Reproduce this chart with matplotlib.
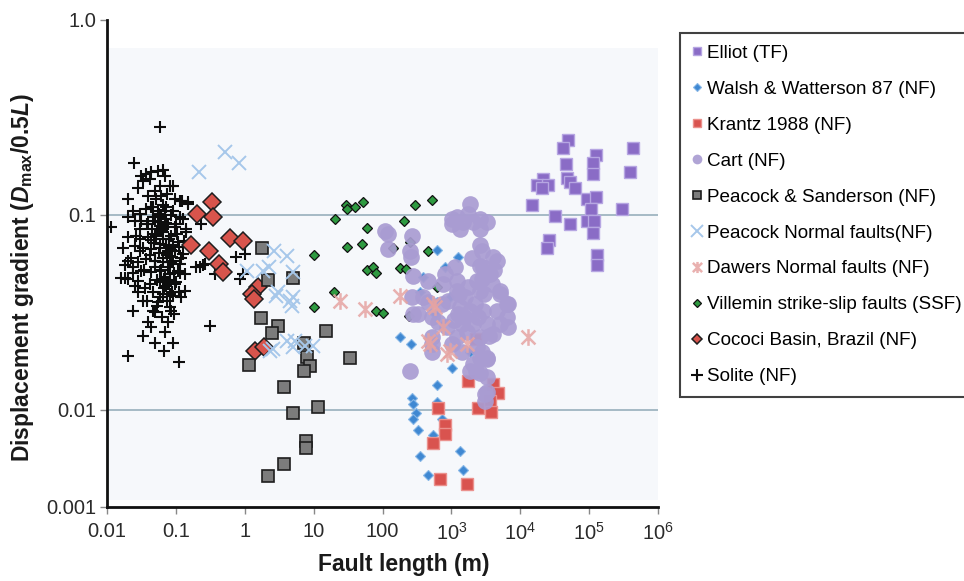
import numpy as np
import matplotlib
matplotlib.use("Agg")
import matplotlib.pyplot as plt
from matplotlib.lines import Line2D
from matplotlib.patches import Rectangle
from matplotlib.path import Path

plt.rcParams['font.family'] = ['Liberation Sans', 'DejaVu Sans']
plt.rcParams['mathtext.fontset'] = 'custom'
plt.rcParams['mathtext.rm'] = 'Liberation Sans:bold'
plt.rcParams['mathtext.it'] = 'Liberation Sans:bold:italic'
plt.rcParams['mathtext.bf'] = 'Liberation Sans:bold'

# ---------------------------------------------------------------
# data: fault length L (m) and displacement gradient Dmax/0.5L
# ---------------------------------------------------------------
elliot_x = [48500, 42000, 125000, 435000, 114000, 45900, 114000, 390000, 47000, 52500,
            21500, 17300, 25400, 20400, 62100, 91700, 125000, 14600, 108000, 295000,
            31800, 52500, 91700, 117000, 112000, 26300, 24100, 131000, 131000]
elliot_y = [0.243, 0.220, 0.202, 0.220, 0.185, 0.182, 0.162, 0.165, 0.154, 0.148,
            0.152, 0.143, 0.143, 0.138, 0.137, 0.121, 0.124, 0.112, 0.107, 0.107,
            0.098, 0.0896, 0.0932, 0.0932, 0.0802, 0.0742, 0.0675, 0.0621, 0.0554]

walsh_x = [622, 1256, 805, 390, 349, 610, 951, 576, 179, 256, 1007, 610, 264, 279, 610,
           305, 279, 721, 330, 544, 1329, 349, 1483, 451, 1856]
walsh_y = [0.0662, 0.0609, 0.0537, 0.0477, 0.0400, 0.0355, 0.0377, 0.0310, 0.0237, 0.0216,
           0.0164, 0.0133, 0.0114, 0.0107, 0.0109, 0.00925, 0.00804, 0.00804, 0.00610,
           0.00543, 0.00373, 0.00331, 0.00239, 0.00212, 0.0197]

krantz_x = [2245, 1754, 3963, 4777, 3622, 2400, 3741, 643, 805, 805, 544, 681, 1662]
krantz_y = [0.0231, 0.0141, 0.0136, 0.0121, 0.0111, 0.0102, 0.00938, 0.0102, 0.00687,
            0.00565, 0.00453, 0.00195, 0.00172]

cart_x = [1856, 1190, 1483, 1007, 2072, 2594, 3243, 1754, 1329, 2594, 1007,
          108, 121, 121, 264, 250, 256,
          2743, 4044, 2897, 3622, 2321, 1124, 805, 760, 1190, 279, 264, 390, 460, 721,
          1190, 1754, 2594, 5058, 6670, 4529, 6324, 2897, 1856, 1256, 1406, 2072, 3243,
          5058, 6670, 4044, 2594, 1190, 279, 330, 516, 516, 1007, 1406, 2321, 2594, 3243,
          2072, 3243, 2594, 1856, 250, 3243, 3063, 643, 851, 516,
          2594, 4529, 5058, 6324, 460, 516, 2743, 3243, 2245, 3063, 1329,
          1600, 2200, 3000, 3900, 1500, 2400, 3500, 1700, 2800, 4200, 1100, 900, 1300,
          2000, 2600]
cart_y = [0.1135, 0.0969, 0.0913, 0.0896, 0.0913, 0.0951, 0.0913, 0.1008, 0.0845, 0.0845, 0.0951,
          0.0828, 0.0796, 0.0667, 0.0780, 0.0654, 0.0604,
          0.0654, 0.0604, 0.0537, 0.0497, 0.0459, 0.0537, 0.0497, 0.0441, 0.0459, 0.0487, 0.0377,
          0.0377, 0.0355, 0.0348, 0.0408, 0.0424, 0.0408, 0.0392, 0.0348, 0.0322, 0.0297, 0.0322,
          0.0322, 0.0310, 0.0275, 0.0275, 0.0275, 0.0275, 0.0264, 0.0244, 0.0235, 0.0235, 0.0310,
          0.0310, 0.0235, 0.0197, 0.0217, 0.0197, 0.0209, 0.0185, 0.0185, 0.0171, 0.0147, 0.0155,
          0.0158, 0.0158, 0.0123, 0.0111, 0.0281, 0.0264, 0.0297,
          0.0547, 0.0581, 0.0408, 0.0348, 0.0459, 0.0217, 0.0197, 0.0182, 0.0158, 0.0120, 0.0335,
          0.0380, 0.0350, 0.0390, 0.0440, 0.0300, 0.0300, 0.0240, 0.0250, 0.0470, 0.0520,
          0.0290, 0.0360, 0.0390, 0.0600, 0.0700]

ps_x = [1.76, 4.96, 2.19, 1.70, 3.00, 2.46, 15.1, 7.23, 7.91, 8.84, 7.31, 1.16, 33.6, 3.74,
        5.06, 11.4, 7.82, 7.82, 3.74, 2.19]
ps_y = [0.0675, 0.0473, 0.0464, 0.0294, 0.0270, 0.0246, 0.0253, 0.0219, 0.0187, 0.0168,
        0.0158, 0.0170, 0.0184, 0.0131, 0.00917, 0.0103, 0.00475, 0.00407, 0.00275, 0.00207]

pn_x = [0.219, 0.521, 0.832, 2.65, 4.06, 1.07, 1.86, 5.06, 2.27, 2.84, 4.96, 4.80, 3.06,
        4.53, 5.35, 7.48, 9.87, 5.06, 2.59, 4.06, 2.32]
pn_y = [0.165, 0.211, 0.184, 0.0654, 0.0616, 0.0516, 0.0516, 0.0506, 0.0537, 0.0385, 0.0377,
        0.0341, 0.0400, 0.0362, 0.0226, 0.0213, 0.0213, 0.0209, 0.0205, 0.0226, 0.0201]

dawers_x = [24.1, 55.5, 179, 576, 760, 488, 951, 1662, 13000, 451, 851, 544]
dawers_y = [0.0362, 0.0328, 0.0385, 0.0335, 0.0264, 0.0217, 0.0201, 0.0217, 0.0235,
            0.0226, 0.0193, 0.0348]

villemin_x = [29.4, 39.7, 51.4, 30.1, 20.4, 58.8, 30.1, 50.2, 10.1, 58.8, 71.8, 80.2, 19.9,
              10.1, 80.2, 102, 295, 516, 205, 250, 451, 179, 219, 610, 244, 143]
villemin_y = [0.112, 0.110, 0.117, 0.107, 0.0951, 0.0851, 0.0686, 0.0708, 0.0621, 0.0522,
              0.0537, 0.0500, 0.0400, 0.0335, 0.0319, 0.0313, 0.112, 0.119, 0.0932, 0.0721,
              0.0654, 0.0533, 0.0527, 0.0424, 0.0303, 0.0679]

cococi_x = [0.337, 0.200, 0.341, 0.610, 0.951, 0.166, 0.306, 0.423, 0.478, 1.57, 1.26, 1.36,
            1.41, 1.90]
cococi_y = [0.116, 0.1008, 0.0969, 0.0760, 0.0736, 0.0702, 0.0654, 0.0559, 0.0506, 0.0424,
            0.0392, 0.0370, 0.0201, 0.0209]

solite_x = [0.0582, 0.0247, 0.0315, 0.0372, 0.0440, 0.0550, 0.0650, 0.0688, 0.0333, 0.0417,
            0.0813, 0.0282, 0.0492, 0.0614, 0.0961, 0.1135, 0.150, 0.0202, 0.0238, 0.0298,
            0.0372, 0.0465, 0.0550, 0.0726, 0.0908, 0.1135, 0.0115, 0.0202, 0.0252, 0.0315,
            0.0394, 0.0492, 0.0614, 0.0768, 0.0961, 0.234, 0.142, 0.0202, 0.0298, 0.0394,
            0.0492, 0.0650, 0.0858, 0.107, 0.0171, 0.0252, 0.0333, 0.0440, 0.0582, 0.0768,
            0.0961, 0.127, 0.753, 0.997, 0.0202, 0.0282, 0.0372, 0.0492, 0.0650, 0.0858,
            0.1135, 0.198, 0.262, 0.0238, 0.0315, 0.0440, 0.0582, 0.0813, 0.107, 0.134,
            0.366, 0.942, 0.0161, 0.0202, 0.0282, 0.0417, 0.0582, 0.0726, 0.0961, 0.134,
            0.0252, 0.0465, 0.0650, 0.0908, 0.120, 0.0333, 0.0550, 0.0813, 0.0238, 0.0492,
            0.0858, 0.0440, 0.310, 0.0204, 0.111, 0.0183, 0.224, 0.0917, 0.121, 0.151,
            0.045, 0.052, 0.058, 0.066, 0.072, 0.080, 0.048, 0.056, 0.064, 0.075,
            0.085, 0.090, 0.060, 0.070, 0.078, 0.053, 0.068, 0.082, 0.095, 0.058,
            0.074, 0.088, 0.050, 0.042, 0.038, 0.070, 0.060, 0.085, 0.100, 0.105,
            0.110, 0.100, 0.110, 0.062, 0.077, 0.095, 0.070, 0.046, 0.034, 0.036,
            0.030, 0.044, 0.052, 0.065, 0.075, 0.040, 0.058, 0.030, 0.026, 0.022,
            0.018, 0.024, 0.028, 0.038, 0.120, 0.130, 0.140, 0.125, 0.115, 0.090,
            0.050, 0.040, 0.033, 0.068, 0.250, 0.850,
            0.047, 0.055, 0.062, 0.071, 0.079, 0.087, 0.051, 0.059, 0.067, 0.083,
            0.043, 0.057, 0.069, 0.076, 0.092, 0.049, 0.063, 0.073, 0.081, 0.054]
solite_y = [0.281, 0.184, 0.158, 0.162, 0.165, 0.168, 0.169, 0.158, 0.149, 0.152,
            0.141, 0.138, 0.133, 0.125, 0.120, 0.118, 0.116, 0.120, 0.105, 0.101,
            0.107, 0.109, 0.105, 0.109, 0.105, 0.0969, 0.0861, 0.0969, 0.0932, 0.0932,
            0.0896, 0.0932, 0.0969, 0.0896, 0.0861, 0.0896, 0.0812, 0.0765, 0.0750, 0.0765,
            0.0796, 0.0750, 0.0780, 0.0721, 0.0679, 0.0693, 0.0679, 0.0667, 0.0679, 0.0654,
            0.0654, 0.0628, 0.0604, 0.0628, 0.0581, 0.0569, 0.0593, 0.0581, 0.0569, 0.0569,
            0.0558, 0.0537, 0.0558, 0.0537, 0.0516, 0.0506, 0.0516, 0.0496, 0.0516, 0.0496,
            0.0496, 0.0496, 0.0476, 0.0467, 0.0459, 0.0442, 0.0450, 0.0432, 0.0442, 0.0408,
            0.0432, 0.0400, 0.0392, 0.0385, 0.0377, 0.0362, 0.0355, 0.0335, 0.0322, 0.0316,
            0.0322, 0.0264, 0.0270, 0.0189, 0.0175, 0.0476, 0.0537, 0.141, 0.118, 0.1135,
            0.085, 0.078, 0.088, 0.082, 0.070, 0.075, 0.072, 0.064, 0.060, 0.062,
            0.066, 0.058, 0.052, 0.048, 0.054, 0.046, 0.042, 0.046, 0.050, 0.038,
            0.036, 0.040, 0.058, 0.062, 0.090, 0.095, 0.100, 0.100, 0.090, 0.080,
            0.068, 0.045, 0.040, 0.030, 0.028, 0.031, 0.025, 0.032, 0.052, 0.042,
            0.065, 0.110, 0.120, 0.112, 0.128, 0.125, 0.140, 0.085, 0.078, 0.060,
            0.055, 0.050, 0.040, 0.036, 0.060, 0.073, 0.085, 0.095, 0.050, 0.022,
            0.022, 0.028, 0.024, 0.020, 0.055, 0.047,
            0.097, 0.092, 0.084, 0.091, 0.069, 0.061, 0.079, 0.071, 0.047, 0.057,
            0.074, 0.101, 0.105, 0.044, 0.070, 0.054, 0.086, 0.064, 0.039, 0.034]

x_ticks = [0.01, 0.1, 1, 10, 100, 1e3, 1e4, 1e5, 1e6]
x_tick_labels = ['0.01', '0.1', '1', '10', '100', r'$\mathregular{10^3}$',
                 r'$\mathregular{10^4}$', r'$\mathregular{10^5}$', r'$\mathregular{10^6}$']
y_ticks = [0.001, 0.01, 0.1, 1.0]
y_tick_labels = ['0.001', '0.01', '0.1', '1.0']

# the lowest decade of the y axis is drawn at half height
SQUEEZE = 0.5


def y_forward(y):
    ly = np.log10(np.clip(np.asarray(y, float), 1e-12, None))
    return np.where(ly >= -2, ly, -2 + (ly + 2) * SQUEEZE)


def y_inverse(t):
    t = np.asarray(t, float)
    return np.where(t >= -2, 10.0 ** t, 10.0 ** (-2 + (t + 2) / SQUEEZE))


# Excel style star: an x with a vertical bar
star = Path([(-0.5, -0.5), (0.5, 0.5), (-0.5, 0.5), (0.5, -0.5), (0, -0.6), (0, 0.6)],
            [Path.MOVETO, Path.LINETO, Path.MOVETO, Path.LINETO, Path.MOVETO, Path.LINETO])

styles = {
    'Elliot (TF)': dict(marker='s', mfc='#8a6cc6', mec='#b6a6e2', mew=1.0),
    'Walsh & Watterson 87 (NF)': dict(marker='D', mfc='#3f88d2', mec='#86b6e6', mew=0.8),
    'Krantz 1988 (NF)': dict(marker='s', mfc='#d9534f', mec='#eb918d', mew=1.0),
    'Cart (NF)': dict(marker='o', mfc='#a99cd2', mec='none', alpha=0.92),
    'Peacock & Sanderson (NF)': dict(marker='s', mfc='#7c7c7c', mec='#1e1e1e', mew=1.2),
    'Peacock Normal faults(NF)': dict(marker='x', color='#a6c7ea', mew=1.4),
    'Dawers Normal faults (NF)': dict(marker=star, color='#e6a4a2', mew=1.8, alpha=0.85),
    'Villemin strike-slip faults (SSF)': dict(marker='D', mfc='#2e9a40', mec='#111111', mew=0.9),
    'Cococi Basin, Brazil (NF)': dict(marker='D', mfc='#d8544c', mec='#1e1e1e', mew=1.1),
    'Solite (NF)': dict(marker='+', color='#0d0d0d', mew=1.5),
}
plot_sizes = {
    'Elliot (TF)': 8.6, 'Walsh & Watterson 87 (NF)': 5.6, 'Krantz 1988 (NF)': 8.6,
    'Cart (NF)': 12, 'Peacock & Sanderson (NF)': 8.4, 'Peacock Normal faults(NF)': 10,
    'Dawers Normal faults (NF)': 12, 'Villemin strike-slip faults (SSF)': 5.2,
    'Cococi Basin, Brazil (NF)': 9.2, 'Solite (NF)': 8,
}
legend_sizes = {
    'Elliot (TF)': 6, 'Walsh & Watterson 87 (NF)': 4.5, 'Krantz 1988 (NF)': 6,
    'Cart (NF)': 7, 'Peacock & Sanderson (NF)': 6, 'Peacock Normal faults(NF)': 8,
    'Dawers Normal faults (NF)': 8, 'Villemin strike-slip faults (SSF)': 4.5,
    'Cococi Basin, Brazil (NF)': 5.5, 'Solite (NF)': 8,
}
series = {
    'Elliot (TF)': (elliot_x, elliot_y),
    'Walsh & Watterson 87 (NF)': (walsh_x, walsh_y),
    'Krantz 1988 (NF)': (krantz_x, krantz_y),
    'Cart (NF)': (cart_x, cart_y),
    'Peacock & Sanderson (NF)': (ps_x, ps_y),
    'Peacock Normal faults(NF)': (pn_x, pn_y),
    'Dawers Normal faults (NF)': (dawers_x, dawers_y),
    'Villemin strike-slip faults (SSF)': (villemin_x, villemin_y),
    'Cococi Basin, Brazil (NF)': (cococi_x, cococi_y),
    'Solite (NF)': (solite_x, solite_y),
}
draw_order = ['Solite (NF)', 'Cococi Basin, Brazil (NF)', 'Peacock & Sanderson (NF)',
              'Peacock Normal faults(NF)', 'Villemin strike-slip faults (SSF)',
              'Walsh & Watterson 87 (NF)', 'Krantz 1988 (NF)', 'Cart (NF)',
              'Dawers Normal faults (NF)', 'Elliot (TF)']

fig = plt.figure(figsize=(9.64, 5.81), dpi=100)
ax = fig.add_axes([0.111, 0.1274, 0.5716, 0.8382])
ax.set_xscale('log')
ax.set_yscale('function', functions=(y_forward, y_inverse))
ax.set_xlim(0.01, 1e6)
ax.set_ylim(0.001, 1.0)

# pale plot-area panel
ax.add_patch(Rectangle((0, 0.014), 1, 0.928, transform=ax.transAxes,
                       facecolor='#f6f8fb', edgecolor='none', zorder=0))
for gy in (0.1, 0.01):
    ax.axhline(gy, color='#8fa9b6', lw=1.1, zorder=1)

for i, name in enumerate(draw_order):
    xs, ys = series[name]
    ax.plot(xs, ys, linestyle='none', ms=plot_sizes[name], zorder=2 + i, **styles[name])

ax.set_xticks(x_ticks)
ax.set_xticklabels(x_tick_labels)
ax.set_yticks(y_ticks)
ax.set_yticklabels(y_tick_labels)
ax.xaxis.set_minor_locator(matplotlib.ticker.NullLocator())
ax.yaxis.set_minor_locator(matplotlib.ticker.NullLocator())
ax.tick_params(axis='both', which='major', labelsize=14.5, colors='#888888',
               labelcolor='#2a2a2a', length=5, width=1)
ax.tick_params(axis='x', pad=6)
ax.tick_params(axis='y', pad=3)

for side in ('top', 'right'):
    ax.spines[side].set_visible(False)
for side in ('left', 'bottom'):
    ax.spines[side].set_linewidth(2.0)
    ax.spines[side].set_color('#111111')

ax.set_xlabel('Fault length (m)', fontsize=16.5, fontweight='bold', color='#1a1a1a')
ax.xaxis.set_label_coords(0.539, -0.095)
ax.set_ylabel(r'Displacement gradient ($D_{\mathrm{max}}$/0.5$L$)', fontsize=16.5,
              fontweight='bold', color='#1a1a1a')
ax.yaxis.set_label_coords(-0.128, 0.472)

handles = [Line2D([], [], linestyle='none', ms=legend_sizes[n], **styles[n]) for n in series]
leg = fig.legend(handles, list(series), loc='upper left', bbox_to_anchor=(0.7054, 0.9432),
                 fontsize=13.6, frameon=True, fancybox=False, edgecolor='#111111',
                 handlelength=0.6, handletextpad=0.2, labelspacing=0.99, borderpad=0.62,
                 borderaxespad=0)
leg.get_frame().set_linewidth(1.5)

fig.savefig('out.png', dpi=100)
